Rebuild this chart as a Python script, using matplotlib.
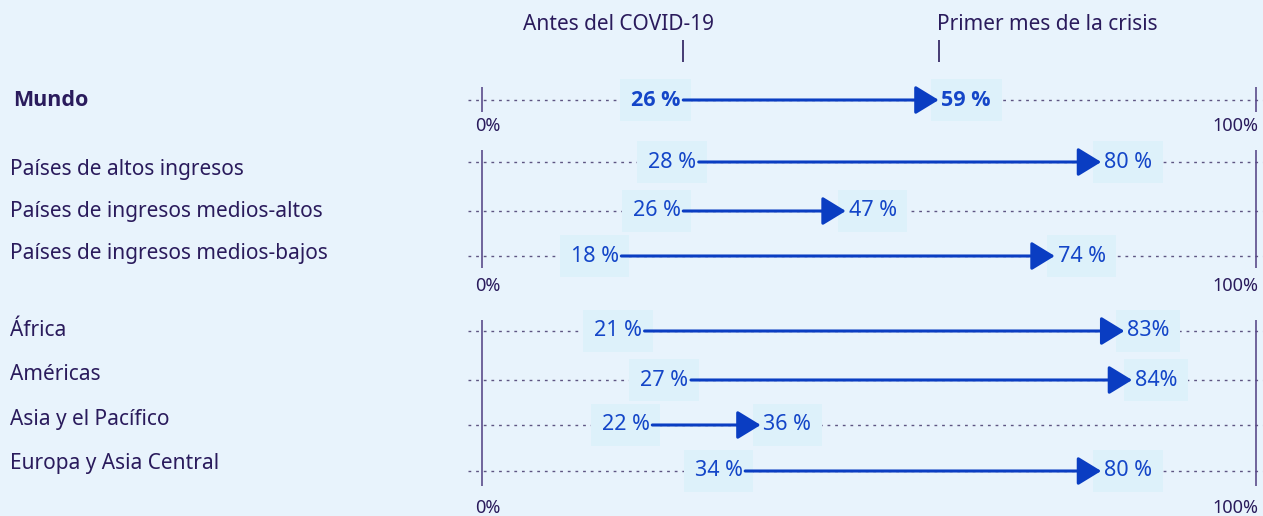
import matplotlib.pyplot as plt

# data
regions = ["Mundo", "Países de altos ingresos", "Países de ingresos medios-altos",
           "Países de ingresos medios-bajos", "África", "Américas",
           "Asia y el Pacífico", "Europa y Asia Central"]
before = [26, 28, 26, 18, 21, 27, 22, 34]
after = [59, 80, 47, 74, 83, 84, 36, 80]
before_labels = ["26 %", "28 %", "26 %", "18 %", "21 %", "27 %", "22 %", "34 %"]
after_labels = ["59 %", "80 %", "47 %", "74 %", "83%", "84%", "36 %", "80 %"]

# layout (pixel rows of the 1263x516 canvas)
row_y = [100, 162, 211, 256, 331, 380, 425, 471]
name_y = [100, 170, 212, 253, 330, 374, 419, 463]
groups = [(87, 112, 126), (150, 268, 286), (320, 486, 508)]  # line top, line bottom, label y

bg = "#E8F3FC"
box = "#DDF1FA"
dark = "#2A1B5C"
blue = "#0A3DC2"
txtblue = "#1446C8"
dots = "#5E5582"

plt.rcParams["font.family"] = ["Noto Sans", "DejaVu Sans"]
boldfam = ["Open Sans", "Roboto", "DejaVu Sans"]

fig = plt.figure(figsize=(12.63, 5.16), dpi=100)
fig.patch.set_facecolor(bg)
ax = fig.add_axes([0, 0, 1, 1])
ax.set_facecolor(bg)

# 0% at x=482px, 100% at x=1256px
x0, x100 = 482, 1256
k = (x100 - x0) / 100
ax.set_xlim(-x0 / k, (1263 - x0) / k)
ax.set_ylim(516, 0)
ax.axis("off")

yax = ax.get_yaxis_transform()  # x in axes fraction, y in data

for i, name in enumerate(regions):
    y = row_y[i]
    bold = i == 0
    fam = boldfam if bold else plt.rcParams["font.family"]
    w = "bold" if bold else "normal"
    ax.plot([-1.8, 101], [y, y], color=dots, lw=1, linestyle=(0, (2, 3.5)), zorder=1)
    ax.annotate("", xy=(after[i], y), xytext=(before[i], y),
                arrowprops=dict(arrowstyle="-|>,head_length=0.9,head_width=0.55",
                                color=blue, lw=2.2, shrinkA=0, shrinkB=0,
                                mutation_scale=16), zorder=3)
    ax.annotate(before_labels[i], xy=(before[i], y), xytext=(-2, 0),
                textcoords="offset points", ha="right", va="center",
                fontsize=15.5, color=txtblue, family=fam, fontweight=w,
                bbox=dict(boxstyle="square,pad=0.5", fc=box, ec="none"), zorder=2)
    ax.annotate(after_labels[i], xy=(after[i], y), xytext=(2, 0),
                textcoords="offset points", ha="left", va="center",
                fontsize=15.5, color=txtblue, family=fam, fontweight=w,
                bbox=dict(boxstyle="square,pad=0.5", fc=box, ec="none"), zorder=2)
    ax.text(0.01 if bold else 0.008, name_y[i], name, transform=yax, ha="left",
            va="center", fontsize=15.5 if bold else 15, color=dark,
            family=fam, fontweight=w)

for top, bot, ly in groups:
    ax.vlines([0, 100], top, bot, color="#5B4B8A", lw=1.2, zorder=1)
    ax.text(0.8, ly, "0%", ha="center", va="center", fontsize=13, color=dark)
    ax.text(97.3, ly, "100%", ha="center", va="center", fontsize=13, color=dark)

# header markers over the Mundo row
ax.vlines([before[0], after[0]], 40, 62, color=dark, lw=1.2)
ax.annotate("Antes del COVID-19", xy=(before[0], 25), xytext=(22, 0),
            textcoords="offset points", ha="right", va="center", fontsize=15, color=dark)
ax.annotate("Primer mes de la crisis", xy=(after[0], 25), xytext=(-1, 0),
            textcoords="offset points", ha="left", va="center", fontsize=15, color=dark)

fig.savefig("out.png", dpi=100, facecolor=bg)
